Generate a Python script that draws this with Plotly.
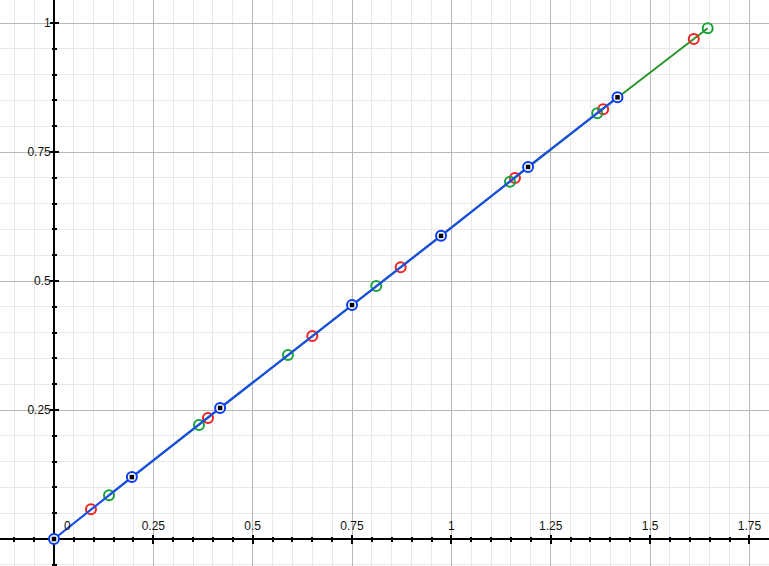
import plotly.graph_objects as go

# ---- data ----
blue_x = [0.0, 0.196, 0.418, 0.750, 0.974, 1.193, 1.418]
blue_y = [0.0, 0.120, 0.254, 0.4535, 0.5875, 0.721, 0.856]

red_x = [0.093, 0.3875, 0.650, 0.8724, 1.160, 1.382, 1.610]
red_y = [0.0576, 0.2345, 0.3934, 0.5266, 0.6996, 0.8328, 0.969]

green_x = [0.1384, 0.3649, 0.5888, 0.811, 1.1475, 1.367, 1.645]
green_y = [0.0847, 0.2209, 0.3566, 0.4903, 0.6924, 0.825, 0.9897]

x_tickvals = [0.25, 0.5, 0.75, 1.0, 1.25, 1.5, 1.75]
x_ticktext = ["0.25", "0.5", "0.75", "1", "1.25", "1.5", "1.75"]
y_tickvals = [0.25, 0.5, 0.75, 1.0]
y_ticktext = ["0.25", "0.5", "0.75", "1"]
origin_label = "0"

X_RANGE = [-0.1359, 1.7993]
Y_RANGE = [-0.0523, 1.0446]

BLUE_LINE = "#1a4ee6"
BLUE_RING = "#0b3cf2"
RED = "#f22222"
GREEN = "#17a33a"
GREEN_LINE = "#2a952a"
FONT = dict(family="Liberation Sans, Arial, sans-serif", size=12, color="#111111")

fig = go.Figure()

fig.add_trace(go.Scatter(
    x=green_x, y=green_y, mode="lines",
    line=dict(color=GREEN_LINE, width=2), hoverinfo="skip"))
fig.add_trace(go.Scatter(
    x=red_x, y=red_y, mode="markers",
    marker=dict(symbol="circle-open", size=10, color=RED, line=dict(width=2, color=RED)),
    hoverinfo="skip"))
fig.add_trace(go.Scatter(
    x=green_x, y=green_y, mode="markers",
    marker=dict(symbol="circle-open", size=10, color=GREEN, line=dict(width=2, color=GREEN)),
    hoverinfo="skip"))
fig.add_trace(go.Scatter(
    x=blue_x, y=blue_y, mode="lines",
    line=dict(color=BLUE_LINE, width=2.2), hoverinfo="skip"))
fig.add_trace(go.Scatter(
    x=blue_x, y=blue_y, mode="markers",
    marker=dict(symbol="circle", size=10, color="white", line=dict(width=2, color=BLUE_RING)),
    hoverinfo="skip"))
fig.add_trace(go.Scatter(
    x=blue_x, y=blue_y, mode="markers",
    marker=dict(symbol="square", size=4.5, color="black", line=dict(width=0)),
    hoverinfo="skip"))
# helper trace so the overlay axes (other half of the crossing ticks) are drawn
fig.add_trace(go.Scatter(x=[None], y=[None], xaxis="x2", yaxis="y2",
                         showlegend=False, hoverinfo="skip"))

x_pos = (0 - Y_RANGE[0]) / (Y_RANGE[1] - Y_RANGE[0])
y_pos = (0 - X_RANGE[0]) / (X_RANGE[1] - X_RANGE[0])

common_minor_grid = dict(tick0=0, dtick=0.05, showgrid=True, gridcolor="#e9e9e9", gridwidth=1,
                         ticks="inside", ticklen=2, tickwidth=1.5, tickcolor="black")

fig.update_layout(
    width=769, height=566,
    margin=dict(l=0, r=0, t=0, b=0),
    plot_bgcolor="white", paper_bgcolor="white",
    showlegend=False,
    font=FONT,
    xaxis=dict(
        range=X_RANGE, anchor="free", position=x_pos, side="top",
        tickmode="array", tickvals=x_tickvals, ticktext=x_ticktext,
        showgrid=True, gridcolor="#b9b9b9", gridwidth=1,
        ticks="inside", ticklen=4, tickwidth=1.5, tickcolor="black",
        showline=True, linecolor="black", linewidth=1.6,
        zeroline=False, layer="below traces",
        minor=common_minor_grid, ticklabelstandoff=3,
    ),
    yaxis=dict(
        range=Y_RANGE, anchor="free", position=y_pos, side="left",
        tickmode="array", tickvals=y_tickvals, ticktext=y_ticktext,
        showgrid=True, gridcolor="#b9b9b9", gridwidth=1,
        ticks="inside", ticklen=4, tickwidth=1.5, tickcolor="black",
        showline=True, linecolor="black", linewidth=1.6,
        zeroline=False, layer="below traces",
        minor=common_minor_grid, ticklabelstandoff=0,
    ),
    xaxis2=dict(
        range=X_RANGE, overlaying="x", anchor="free", position=x_pos, side="bottom",
        tickmode="array", tickvals=x_tickvals, showticklabels=False,
        showgrid=False, zeroline=False, showline=False,
        ticks="inside", ticklen=4, tickwidth=1.5, tickcolor="black", layer="below traces",
        minor=dict(tick0=0, dtick=0.05, showgrid=False, ticks="inside", ticklen=2,
                   tickwidth=1.5, tickcolor="black"),
    ),
    yaxis2=dict(
        range=Y_RANGE, overlaying="y", anchor="free", position=y_pos, side="right",
        tickmode="array", tickvals=y_tickvals, showticklabels=False,
        showgrid=False, zeroline=False, showline=False,
        ticks="inside", ticklen=4, tickwidth=1.5, tickcolor="black", layer="below traces",
        minor=dict(tick0=0, dtick=0.05, showgrid=False, ticks="inside", ticklen=2,
                   tickwidth=1.5, tickcolor="black"),
    ),
    annotations=[dict(x=0, y=0, xref="x", yref="y", text=origin_label, showarrow=False,
                      xshift=13, yshift=13, font=FONT)],
)

fig.write_html("out.html", config={"displayModeBar": False},
               post_script="document.body.style.margin='0';")
